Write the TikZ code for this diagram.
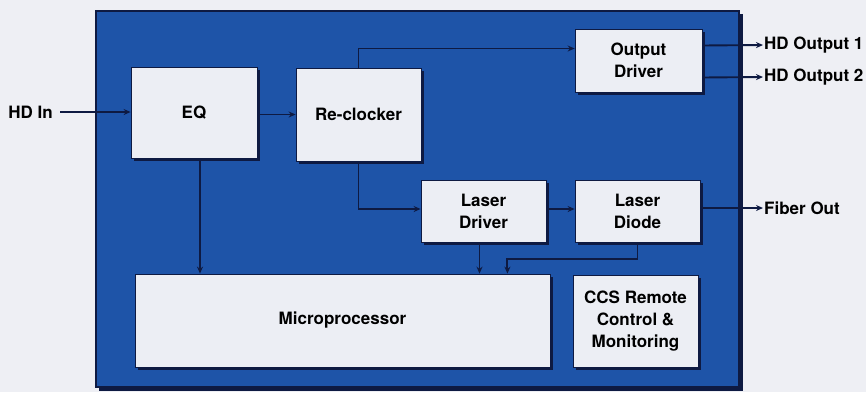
\documentclass[tikz,border=0pt]{standalone}
\usepackage{fontspec}
\setmainfont{TeX Gyre Heros}
\usetikzlibrary{arrows.meta,shadows,calc}
\definecolor{bgc}{RGB}{238,239,244}
\definecolor{panelc}{RGB}{30,84,168}
\definecolor{navy}{RGB}{14,26,66}
\definecolor{boxc}{RGB}{236,238,244}
\tikzset{
  blk/.style={draw=navy, line width=0.8pt, fill=boxc, align=center,
    font=\fontsize{17}{22}\selectfont\bfseries, inner sep=2pt,
    drop shadow={shadow xshift=3pt, shadow yshift=-3pt, fill=navy, opacity=1}},
  lbl/.style={font=\fontsize{17}{22}\selectfont\bfseries, inner sep=1pt},
  arr/.style={draw=navy, line width=1.9pt, -{Stealth[length=7pt,width=6pt]}},
  ln/.style={draw=navy, line width=1.9pt}
}
\begin{document}
\begin{tikzpicture}[x=1pt,y=-1pt]
\useasboundingbox[fill=bgc] (0,0) rectangle (866,392);
% panel
\fill[navy] (99,14) rectangle (743,391);
\filldraw[fill=panelc, draw=navy, line width=1.2pt] (96,11) rectangle (739,387);
% blocks
\node[blk, minimum width=126pt, minimum height=91pt] (eq) at (194,112.5) {EQ};
\node[blk, minimum width=125pt, minimum height=93pt] (rc) at (358.5,114.5) {Re-clocker};
\node[blk, minimum width=127pt, minimum height=63pt] (od) at (638.5,60.5) {Output\\Driver};
\node[blk, minimum width=125pt, minimum height=62pt] (ld) at (483.5,211) {Laser\\Driver};
\node[blk, minimum width=125pt, minimum height=62pt] (ldi) at (637.5,211) {Laser\\Diode};
\node[blk, minimum width=415pt, minimum height=93pt] (mp) at (342.5,320.5) {Microprocessor};
\node[blk, minimum width=125pt, minimum height=92pt] (ccs) at (635.5,321) {CCS Remote\\Control \&\\Monitoring};
% external labels
\node[lbl, anchor=east] (hdin) at (54,112) {HD In};
\node[lbl, anchor=west] (out1) at (763,45) {HD Output 1};
\node[lbl, anchor=west] (out2) at (763,77) {HD Output 2};
\node[lbl, anchor=west] (fib) at (763,208) {Fiber Out};
% connectors
\draw[arr] ([xshift=6pt]hdin.east) -- (eq.west |- hdin.east);
\draw[arr] (eq.east |- rc.west) -- (rc.west);
\draw[arr] (rc.north) |- ([yshift=12pt]od.west);
\draw[arr] ([yshift=15pt]od.east) -- (out1.west);
\draw[arr] ([yshift=-17pt]od.east) -- (out2.west);
\draw[arr] (rc.south) |- ([yshift=2pt]ld.west);
\draw[arr] ([yshift=2pt]ld.east) -- ([yshift=2pt]ldi.west);
\draw[arr] ([yshift=3pt]ldi.east) -- (fib.west);
\draw[arr] ([xshift=6pt]eq.south) -- ([xshift=6pt]eq.south |- mp.north);
\draw[arr] ([xshift=-4pt]ld.south) -- ([xshift=-4pt]ld.south |- mp.north);
\draw[arr] (ldi.south) -- ++(0,17) -| ([xshift=-43pt]mp.north east);
\end{tikzpicture}
\end{document}
